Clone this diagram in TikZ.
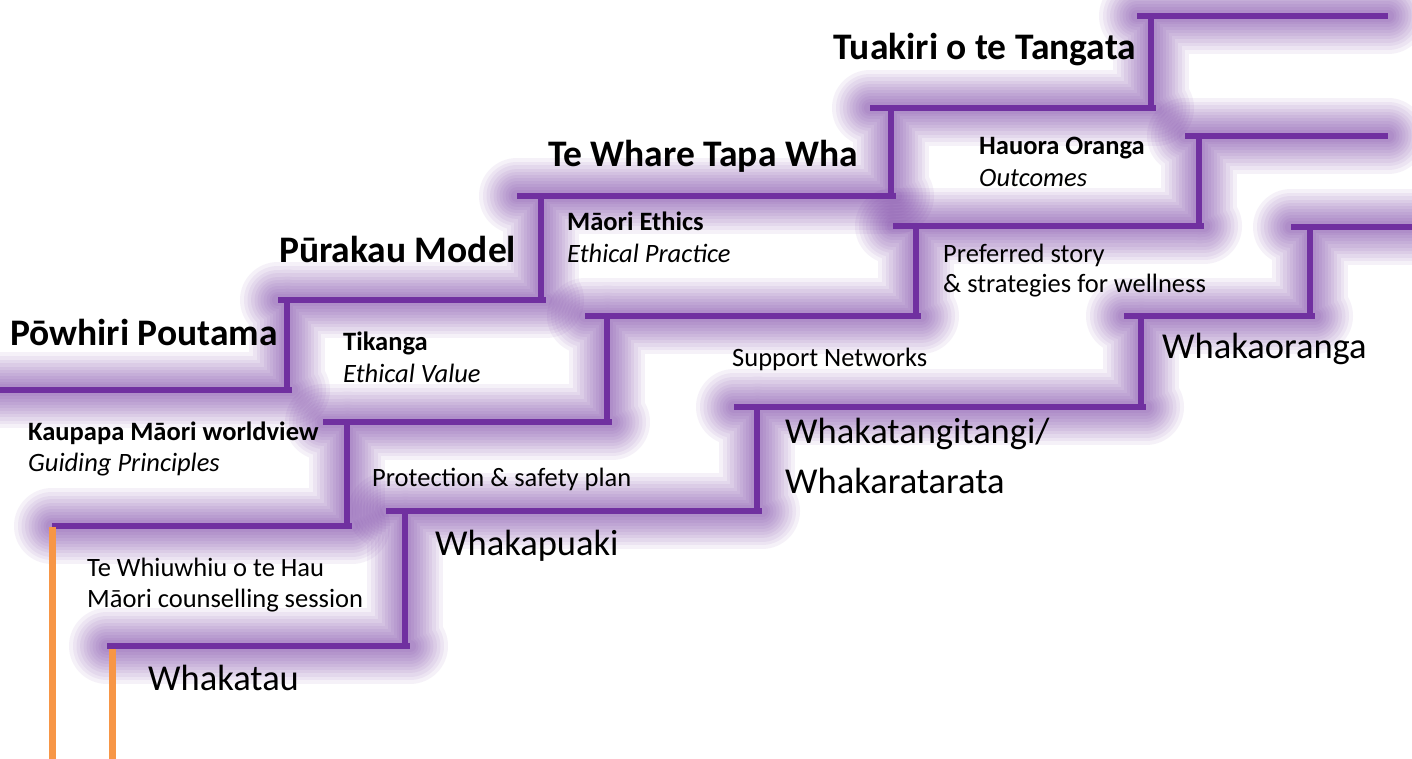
\documentclass[tikz,border=0pt]{standalone}
\usepackage{fontspec}
\setmainfont{Carlito}
\definecolor{stairpurple}{HTML}{7030A0}
\definecolor{stairorange}{HTML}{F79646}
\tikzset{
  halo/.style={preaction={draw=stairpurple,draw opacity=.065,line width=#1,line cap=round,line join=round}},
  glowing/.style={halo=76pt,halo=68pt,halo=61pt,halo=54pt,halo=47pt,halo=41pt,halo=35pt,halo=29pt,halo=23pt,halo=17pt,halo=12pt},
  stairline/.style={draw=stairpurple,line width=6pt,line cap=butt},
  pole/.style={draw=stairorange,line width=7pt},
  lbl/.style={anchor=base west,inner sep=0pt,text=black},
  title/.style={lbl,font=\fontsize{37.5}{40}\selectfont\bfseries},
  stepname/.style={lbl,font=\fontsize{36.5}{40}\selectfont},
  small/.style={lbl,font=\fontsize{26.5}{30}\selectfont},
  smallbold/.style={lbl,font=\fontsize{26.5}{30}\selectfont\bfseries},
  smallit/.style={lbl,font=\fontsize{26.5}{30}\selectfont\itshape}
}
\begin{document}
\begin{tikzpicture}[x=1pt,y=-1pt]
\useasboundingbox (0,0) rectangle (1412,759);
\fill[white] (0,0) rectangle (1412,759);
% staircase A (top)
\path[glowing,stairline]
  (0,390)--(292,390) (287,390)--(287,300)
  (278,300)--(546,300) (541,300)--(541,196)
  (517,196)--(896,196) (891,196)--(891,108)
  (870,108)--(1156,108) (1151,108)--(1151,16)
  (1137,16)--(1388,16);
% staircase B (middle)
\path[glowing,stairline]
  (52,526)--(352,526) (347,526)--(347,422)
  (323,422)--(612,422) (607,422)--(607,316)
  (585,316)--(921,316) (916,316)--(916,226)
  (893,226)--(1204,226) (1199,226)--(1199,136)
  (1185,136)--(1388,136);
% staircase C (bottom)
\path[glowing,stairline]
  (107,646)--(410,646) (405,646)--(405,511)
  (386,511)--(762,511) (757,511)--(757,407)
  (734,407)--(1146,407) (1141,407)--(1141,316)
  (1124,316)--(1315,316) (1310,316)--(1310,227)
  (1291,227)--(1412,227);
% orange poles
\draw[pole] (52,527)--(52,759);
\draw[pole] (112,649)--(112,759);
% titles
\node[title] (t1) at (10,345) {Pōwhiri Poutama};
\node[title] (t2) at (279,262) {Pūrakau Model};
\node[title] (t3) at (548,167) {Te Whare Tapa Wha};
\node[title] (t4) at (833,60) {Tuakiri o te Tangata};
% small labels
\node[smallbold] (k1) at (28,440) {Kaupapa Māori worldview};
\node[smallit] (k2) at (28,471) {Guiding Principles};
\node[smallbold] (ti1) at (343,350) {Tikanga};
\node[smallit] (ti2) at (343,382) {Ethical Value};
\node[smallbold] (me1) at (567,231) {Māori Ethics};
\node[smallit] (me2) at (567,262) {Ethical Practice};
\node[smallbold] (ho1) at (979,155) {Hauora Oranga};
\node[smallit] (ho2) at (979,187) {Outcomes};
\node[small] (ps1) at (943,262) {Preferred story};
\node[small] (ps2) at (943,292) {\& strategies for wellness};
\node[small] (sn) at (732,366) {Support Networks};
\node[small] (pr) at (372,486) {Protection \& safety plan};
\node[small] (tw1) at (87,576) {Te Whiuwhiu o te Hau};
\node[small] (tw2) at (87,607) {Māori counselling session};
% step names
\node[stepname] (s1) at (148,690) {Whakatau};
\node[stepname] (s2) at (435,555) {Whakapuaki};
\node[stepname] (s3a) at (785,443) {Whakatangitangi/};
\node[stepname] (s3b) at (785,493) {Whakaratarata};
\node[stepname] (s4) at (1162,358) {Whakaoranga};
\end{tikzpicture}
\end{document}
